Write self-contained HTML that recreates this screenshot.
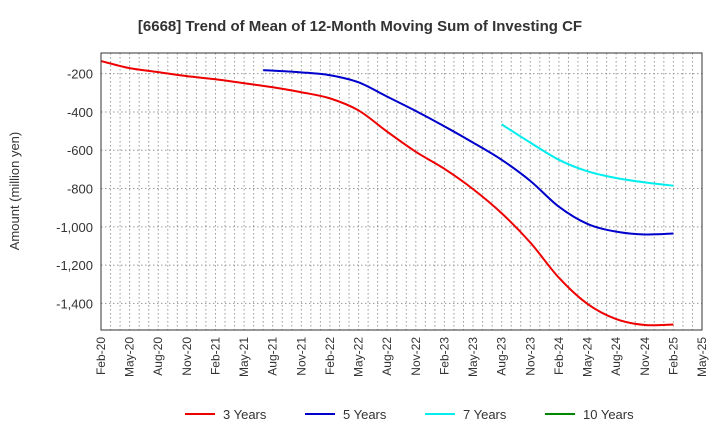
<!DOCTYPE html>
<html><head><meta charset="utf-8"><style>
body{margin:0;background:#fff;font-family:"Liberation Sans",sans-serif}
</style></head><body>
<svg id="c" width="720" height="440" xmlns="http://www.w3.org/2000/svg">
<text x="360" y="31" text-anchor="middle" font-size="15" font-weight="bold" fill="#333">[6668]  Trend of Mean of 12-Month Moving Sum of Investing CF</text>
<text transform="translate(19,191) rotate(-90)" text-anchor="middle" font-size="13" fill="#333">Amount (million yen)</text>
<g id="grid"></g><g id="series"></g><g id="axes"></g>
<g id="legend"></g>
</svg>
<script>
const xLabels=["Feb-20","May-20","Aug-20","Nov-20","Feb-21","May-21","Aug-21","Nov-21","Feb-22","May-22","Aug-22","Nov-22","Feb-23","May-23","Aug-23","Nov-23","Feb-24","May-24","Aug-24","Nov-24","Feb-25","May-25"];
const yTicks=[-200,-400,-600,-800,-1000,-1200,-1400];
const yTickLabels=["-200","-400","-600","-800","-1,000","-1,200","-1,400"];
// month index from Feb-20
const s3Months=[0,3,6,9,12,15,18,21,24,27,30,33,36,39,42,45,48,51,54,57,60];
const s3Values=[-134,-171,-192,-213,-229,-250,-271,-297,-329,-392,-503,-608,-697,-803,-929,-1082,-1266,-1403,-1482,-1513,-1510];
const s5Months=[17,18,21,24,27,30,33,36,39,42,45,48,51,54,57,60];
const s5Values=[-182,-184,-193,-208,-245,-320,-395,-475,-560,-650,-760,-895,-985,-1025,-1040,-1035];
const s7Months=[42,45,48,51,54,57,60];
const s7Values=[-465,-560,-650,-710,-745,-768,-785];
const L=101,R=702,T=53,B=330,yTop=-92,yBot=-1539,nM=63;
const X=m=>L+(R-L)*m/nM, Y=v=>T+(B-T)*(v-yTop)/(yBot-yTop);
const NS="http://www.w3.org/2000/svg";
function mk(p,t,a){const e=document.createElementNS(NS,t);for(const k in a)e.setAttribute(k,a[k]);document.getElementById(p).appendChild(e);return e;}
for(let m=1;m<nM;m++){const l=mk('grid','line',{x1:X(m),x2:X(m),y1:T,y2:B,stroke:'#999','stroke-dasharray':'1.5,2.5','stroke-width':1});

}
yTicks.forEach((v,i)=>{const l=mk('grid','line',{x1:L,x2:R,y1:Y(v),y2:Y(v),stroke:'#999','stroke-dasharray':'1.5,2.5'});


const t=mk('axes','text',{x:L-8,y:Y(v)+5,'text-anchor':'end','font-size':13,fill:'#333'});t.textContent=yTickLabels[i];

});
xLabels.forEach((s,i)=>{const x=X(i*3);const t=mk('axes','text',{transform:`translate(${x+4},${B+7}) rotate(-90)`,'text-anchor':'end','font-size':12,fill:'#333'});t.textContent=s;

});
const fr=mk('axes','rect',{x:L,y:T,width:R-L,height:B-T,fill:'none',stroke:'#333','stroke-width':1});


function path(ms,vs){const p=ms.map((m,i)=>[X(m),Y(vs[i])]);let d=`M${p[0][0]},${p[0][1]}`;
for(let i=0;i<p.length-1;i++){const p0=p[i-1]||p[i],p1=p[i],p2=p[i+1],p3=p[i+2]||p2;
d+=` C${p1[0]+(p2[0]-p0[0])/6},${p1[1]+(p2[1]-p0[1])/6} ${p2[0]-(p3[0]-p1[0])/6},${p2[1]-(p3[1]-p1[1])/6} ${p2[0]},${p2[1]}`;}return d;}
[[s3Months,s3Values,'#e00','line-3-years'],[s5Months,s5Values,'#00c','line-5-years'],[s7Months,s7Values,'#0ee','line-7-years']].forEach(s=>{
const e=mk('series','path',{d:path(s[0],s[1]),fill:'none',stroke:s[2],'stroke-width':2});

});
[['3 Years','#e00',185],['5 Years','#00c',305],['7 Years','#0ee',425],['10 Years','#080',545]].forEach(l=>{
const ln=mk('legend','line',{x1:l[2],x2:l[2]+30,y1:414,y2:414,stroke:l[1],'stroke-width':2});


const t=mk('legend','text',{x:l[2]+38,y:419,'font-size':13,fill:'#333'});t.textContent=l[0];

});
</script>
</body></html>
